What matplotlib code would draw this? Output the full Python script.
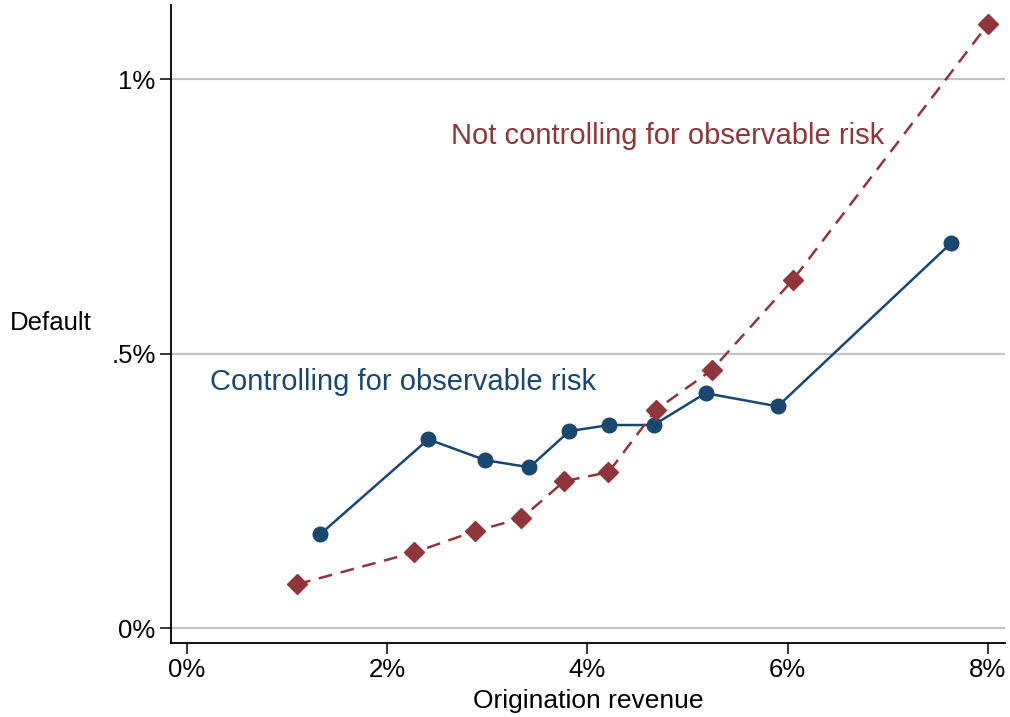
import matplotlib
matplotlib.use("Agg")
import matplotlib.pyplot as plt
from matplotlib.ticker import FixedLocator

# binned values (percent)
ctrl_x = [1.33, 2.41, 2.98, 3.42, 3.82, 4.22, 4.66, 5.18, 5.90, 7.63]
ctrl_y = [0.171, 0.344, 0.306, 0.293, 0.359, 0.370, 0.370, 0.428, 0.404, 0.701]
raw_x = [1.10, 2.27, 2.88, 3.34, 3.77, 4.21, 4.68, 5.24, 6.05, 8.00]
raw_y = [0.080, 0.138, 0.177, 0.200, 0.268, 0.284, 0.397, 0.470, 0.634, 1.100]

x_ticks = [0, 2, 4, 6, 8]
x_labels = ["0%", "2%", "4%", "6%", "8%"]
y_ticks = [0, 0.5, 1.0]
y_labels = ["0%", ".5%", "1%"]

BLUE = "#1a476f"
RED = "#90353b"

plt.rcParams['font.family'] = ['Liberation Sans', 'DejaVu Sans']

fig = plt.figure(figsize=(10.1, 7.17), dpi=100)
ax = fig.add_axes([0.1693, 0.1032, 0.8257, 0.8898])

for yv in y_ticks:
    ax.axhline(yv, color="#c4c4c4", lw=1.6, zorder=0)

ax.plot(ctrl_x, ctrl_y, color=BLUE, lw=1.8, marker="o", ms=10.5, zorder=3)
ax.plot(raw_x, raw_y, color=RED, lw=1.8, ls=(0, (5.5, 3.5)), marker="D", ms=10, zorder=3)

ax.text(4.80, 0.896, "Not controlling for observable risk", color=RED,
        fontsize=21, ha="center", va="center")
ax.text(2.16, 0.448, "Controlling for observable risk", color=BLUE,
        fontsize=21, ha="center", va="center")

ax.set_xlim(-0.16, 8.17)
ax.set_ylim(-0.027, 1.135)

ax.xaxis.set_major_locator(FixedLocator(x_ticks))
ax.set_xticklabels(x_labels, fontsize=18.5)
ax.yaxis.set_major_locator(FixedLocator(y_ticks))
ax.set_yticklabels(y_labels, fontsize=18.5)
ax.tick_params(axis="both", direction="out", length=8, width=1.1, color="black", pad=3)

ax.set_xlabel("Origination revenue", fontsize=19, labelpad=5)
ax.set_ylabel("Default", fontsize=18.5, rotation=0, ha="left", va="center")
ax.yaxis.set_label_coords(-0.193, 0.502)

for side in ["top", "right"]:
    ax.spines[side].set_visible(False)
for side in ["left", "bottom"]:
    ax.spines[side].set_linewidth(1.3)

fig.savefig("out.png", dpi=100)
